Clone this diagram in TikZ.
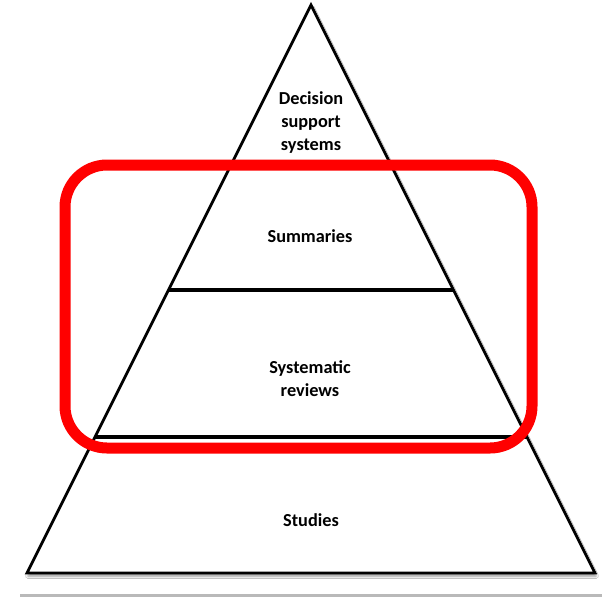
\documentclass[tikz,border=0pt]{standalone}
\usepackage{fontspec}
\setmainfont{Carlito}
\usetikzlibrary{shadows.blur}
\tikzset{
  layer/.style={draw=black, line width=2.8pt, fill=white, line join=miter},
  divider/.style={draw=black, line width=3.2pt},
  label/.style={font=\bfseries\fontsize{18.3}{23}\selectfont, align=center, inner sep=0pt, anchor=base, text=black},
  highlight/.style={draw=red, line width=11pt, rounded corners=42pt}
}
\begin{document}
\begin{tikzpicture}[x=1pt, y=-1pt]
  \useasboundingbox[fill=white] (0,0) rectangle (602,598);

  % page edge shadow
  \draw[line width=3pt, gray!55] (20,595) -- (602,595);

  % corners of the pyramid
  \coordinate (apex) at (311,5);
  \coordinate (bl) at (27,573);
  \coordinate (br) at (595,573);

  % pyramid outline
  \filldraw[layer, blur shadow={shadow xshift=1pt, shadow yshift=-3pt, shadow blur radius=2.5pt, shadow opacity=45}]
    (apex) -- (br) -- (bl) -- cycle;

  % layer boundaries
  \coordinate (d1l) at ($(apex)!0.2812!(bl)$);
  \coordinate (d1r) at ($(apex)!0.2812!(br)$);
  \coordinate (d2l) at ($(apex)!0.5018!(bl)$);
  \coordinate (d2r) at ($(apex)!0.5018!(br)$);
  \coordinate (d3l) at ($(apex)!0.7606!(bl)$);
  \coordinate (d3r) at ($(apex)!0.7606!(br)$);
  \draw[divider] (d1l) -- (d1r);
  \draw[divider] (d2l) -- (d2r);
  \draw[divider] (d3l) -- (d3r);

  % layer labels (base anchor sits on the last line)
  \node[label] (dss) at (311,150) {Decision\\support\\systems};
  \node[label] (sum) at (310,242) {Summaries};
  \node[label] (sysrev) at (310,396) {Systematic\\reviews};
  \node[label] (stud) at (311,526) {Studies};

  % highlight around the middle layers
  \draw[highlight] (65,165) rectangle (532,448);
\end{tikzpicture}
\end{document}
